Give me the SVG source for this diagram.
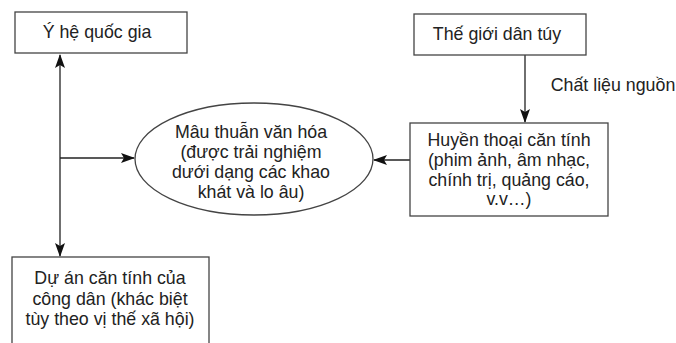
<svg xmlns="http://www.w3.org/2000/svg" width="676" height="343" viewBox="0 0 676 343">
<defs>
<style>
.box{fill:#fff;stroke:#444;stroke-width:1.3}
.ln{fill:none;stroke:#222;stroke-width:1.3}
text{font-family:"Liberation Sans",Arial,sans-serif;font-size:17.8px;fill:#222;text-anchor:middle}
</style>
<marker id="ah" viewBox="0 0 14 10" refX="13" refY="5" markerWidth="14" markerHeight="10" markerUnits="userSpaceOnUse" orient="auto">
<path d="M0,0 L14,5 L0,10 L3,5 Z" fill="#111"/>
</marker>
</defs>
<rect width="676" height="343" fill="#fff"/>
<g id="connectors">
<line class="ln" x1="60" y1="158" x2="60" y2="55" marker-end="url(#ah)"/>
<line class="ln" x1="60" y1="158" x2="60" y2="256" marker-end="url(#ah)"/>
<line class="ln" x1="60" y1="158" x2="134" y2="158" marker-end="url(#ah)"/>
<line class="ln" x1="410" y1="160" x2="374" y2="160" marker-end="url(#ah)"/>
<line class="ln" x1="525" y1="55" x2="525" y2="122" marker-end="url(#ah)"/>
<text x="613" y="91">Chất liệu nguồn</text>
</g>
<g id="y-he-quoc-gia">
<rect class="box" x="15" y="12" width="172" height="41"/>
<text x="97" y="38">Ý hệ quốc gia</text>
</g>
<g id="the-gioi-dan-tuy">
<rect class="box" x="414" y="14" width="172" height="41"/>
<text x="497" y="40">Thế giới dân túy</text>
</g>
<g id="mau-thuan-van-hoa">
<ellipse class="box" cx="254" cy="159" rx="119" ry="56"/>
<text x="251" y="138">Mâu thuẫn văn hóa</text>
<text x="251" y="158">(được trải nghiệm</text>
<text x="251" y="178">dưới dạng các khao</text>
<text x="251" y="198">khát và lo âu)</text>
</g>
<g id="huyen-thoai-can-tinh">
<rect class="box" x="410" y="123" width="198" height="93"/>
<text x="509" y="146">Huyền thoại căn tính</text>
<text x="509" y="166">(phim ảnh, âm nhạc,</text>
<text x="509" y="186">chính trị, quảng cáo,</text>
<text x="509" y="205">v.v…)</text>
</g>
<g id="du-an-can-tinh">
<rect class="box" x="12" y="257" width="197" height="100"/>
<text x="110" y="284">Dự án căn tính của</text>
<text x="110" y="305">công dân (khác biệt</text>
<text x="110" y="325">tùy theo vị thế xã hội)</text>
</g>
</svg>
